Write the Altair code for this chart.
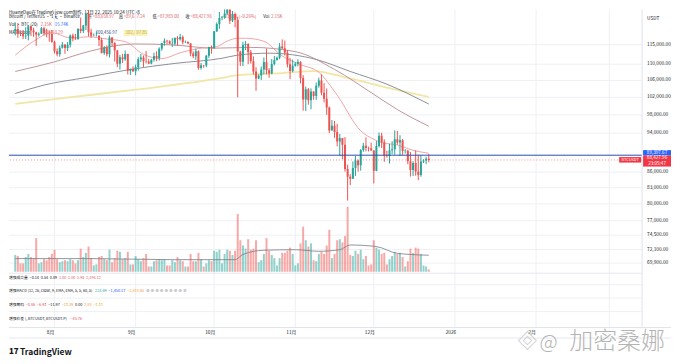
import math
import altair as alt
import pandas as pd

# ---------------- data ----------------
start_date = "2025-07-17"
end_date = "2025-12-22"

opens = [
    118630,119177,117924,117840,117265,117380,119955,118755,118340,117614,117919,119415,118062,117922,117832,
    115764,113297,112547,114208,115055,114129,114993,117472,116674,116462,119294,118686,120134,123306,118295,117342,117380,117405,116227,112872,114271,112500,116936,115438,113493,110111,111763,111262,112566,108377,108817,
    108246,109237,111240,111705,110730,110660,110187,111137,112066,111546,113960,115482,116029,115918,115268,115349,116788,116447,117073,115632,115721,115306,112748,112014,113328,109049,109712,109681,112122,114400,
    114056,118594,120529,122232,122391,123482,124659,121451,123354,121706,113214,110644,114958,115166,113028,110763,108186,106467,107198,108666,110588,108476,107688,110069,111033,111641,114559,114107,112898,110021,108322,
    109608,110098,110540,106583,101497,103885,101346,103339,102312,104722,106011,103058,101654,99692,94594,95596,94261,92215,92960,91554,86637,85129,84739,86830,88300,87369,90485,91333,90890,90802,
    90360,86286,91277,93430,92078,89330,89236,90395,90634,92691,92020,92511,90270,90298,88175,86419,87843,86143,85462,88103,88344,88659,
]
highs = [
    120998,120820,118499,118856,119676,120247,120090,119535,118451,118297,119766,119800,119273,118792,118922,
    116052,114036,114800,115720,115127,115716,117700,117944,117900,119311,122335,120322,123667,124474,119216,117999,118575,117543,116800,114615,114821,117429,117000,115666,113650,112371,112625,113485,112646,108926,109480,
    109912,111771,112575,112206,113384,111306,111350,112924,113293,114313,115488,116665,116298,116165,116781,116964,117286,117900,117459,116100,115900,115440,113290,113996,113500,110300,109800,112375,114464,114792,
    118649,121022,123894,122800,125708,126199,125126,124197,123762,122550,113400,115770,116000,115409,113612,111980,109240,107500,109450,111705,114000,109000,111293,112100,111950,115466,116400,116086,113643,111592,111190,
    110564,111250,110750,107299,104535,104200,104096,103406,105495,106670,107500,105333,104085,99866,96846,96635,96043,93836,92980,93160,87498,85620,88127,89228,88519,90656,91950,93092,91165,92000,
    90417,92307,94150,94080,92692,90289,91760,92287,94588,94476,93555,92754,90650,90472,90052,88175,90365,89477,89400,88573,89081,89617,
]
lows = [
    117453,116812,117277,116467,116515,116128,117301,117103,114723,117150,117840,117427,116950,115800,115500,
    112722,112000,111920,114008,112650,113355,114256,115880,116300,116400,118050,118100,118920,117180,116803,117200,117172,114640,112733,112380,112000,111684,114531,110680,109274,108666,110345,110862,107463,107350,108076,
    107255,108393,110528,109329,110206,110017,110000,110621,110766,110917,113430,114740,115169,115135,114384,114737,114720,116092,115100,115437,115183,112000,111500,111100,108620,108650,109100,109236,111560,112656,
    113970,118383,119248,121568,122000,123084,120574,121066,119651,102000,109561,109565,113600,110023,110164,107430,103528,106322,106103,107460,107473,106666,107500,109700,110920,111260,113830,112211,109200,106304,108000,
    109394,109471,105306,98944,98888,100300,99260,101455,101400,104265,102476,100813,98000,94012,94558,93005,91220,89253,88608,86100,80600,83500,84667,85272,86116,86306,90089,90180,90155,90336,
    83822,86184,90990,90889,88056,88908,87719,89612,89500,91563,89260,89480,89766,87577,85146,85266,85314,84450,85110,87830,87600,87983,
]
closes = [
    119177,117924,117840,117265,117380,119955,118755,118340,117614,117919,119415,118062,117922,117832,115764,
    113297,112547,114208,115055,114129,114993,117472,116674,116462,119294,118686,120134,123306,118295,117342,117380,117405,116227,112872,114271,112500,116936,115438,113493,110111,111763,111262,112566,108377,108817,108246,
    109237,111240,111705,110730,110660,110187,111137,112066,111546,113960,115482,116029,115918,115268,115349,116788,116447,117073,115632,115721,115306,112748,112014,113328,109049,109712,109681,112122,114400,114056,
    118594,120529,122232,122391,123482,124659,121451,123354,121706,113214,110644,114958,115166,113028,110763,108186,106467,107198,108666,110588,108476,107688,110069,111033,111641,114559,114107,112898,110021,108322,109608,
    110098,110540,106583,101497,103885,101346,103339,102312,104722,106011,103058,101654,99692,94594,95596,94261,92215,92960,91554,86637,85129,84739,86830,88300,87369,90485,91333,90890,90802,90360,
    86286,91277,93430,92078,89330,89236,90395,90634,92691,92020,92511,90270,90298,88175,86419,87843,86143,85462,88103,88344,88659,88427.96,
]
volumes_k = [
    16,15,8,8,14,17,14,13,32,8,9,12,11,14,17,
    21,12,9,10,11,10,12,11,8,11,22,14,18,24,13,6,7,14,15,12,11,21,9,13,20,19,12,13,19,7,7,
    15,12,10,13,17,5,5,10,11,12,11,12,6,6,11,9,14,11,10,5,5,17,10,10,18,12,5,8,11,10,
    20,19,21,8,17,21,20,16,20,55,30,25,22,31,21,22,30,9,11,17,32,20,16,13,6,13,18,18,20,23,17,
    6,8,27,43,30,24,27,11,10,17,19,17,25,40,13,17,30,31,28,34,62,16,15,20,17,21,12,15,6,7,
    30,23,21,17,18,7,12,15,19,17,18,14,5,10,22,18,23,22,17,6,5,2.15,
]

ma20_dates = ["2025-07-17","2025-07-24","2025-07-31","2025-08-07","2025-08-14","2025-08-21","2025-08-28",
              "2025-09-04","2025-09-11","2025-09-18","2025-09-25","2025-10-02","2025-10-06","2025-10-10",
              "2025-10-13","2025-10-20","2025-10-27","2025-11-03","2025-11-10","2025-11-17","2025-11-26",
              "2025-12-01","2025-12-04","2025-12-10","2025-12-16","2025-12-22"]
ma20_vals = [112300,115900,118200,116800,117100,116500,115800,112500,111400,112900,114000,114500,115950,116700,
             116700,115900,112100,109900,108000,102500,94500,92700,92000,91500,90400,89793]

ma60_dates = ["2025-07-17","2025-08-01","2025-08-15","2025-09-01","2025-09-15","2025-10-01","2025-10-15",
              "2025-11-01","2025-11-16","2025-12-01","2025-12-10","2025-12-22"]
ma60_vals = [108200,110600,113400,115200,114950,114100,114300,113200,108700,102700,99200,95500]

ma120_dates = ["2025-07-17","2025-07-28","2025-08-13","2025-08-30","2025-09-16","2025-10-04","2025-10-10",
               "2025-10-22","2025-11-09","2025-11-22","2025-12-06","2025-12-22"]
ma120_vals = [102900,104900,106700,108700,110200,111500,112300,112800,111200,108200,105100,100457]

ema200_dates = ["2025-07-17","2025-08-05","2025-09-01","2025-10-04","2025-10-10","2025-10-27","2025-11-08",
                "2025-11-21","2025-12-06","2025-12-22"]
ema200_vals = [100500,101900,103800,106600,107300,107800,108300,106600,104300,102100]

volma_dates = ["2025-07-17","2025-08-15","2025-09-15","2025-10-09","2025-10-12","2025-10-20","2025-11-01",
               "2025-11-10","2025-11-18","2025-11-22","2025-12-02","2025-12-10","2025-12-22"]
volma_vals = [12.5,12.5,11.5,11.5,16.5,20.5,21,19.5,21,25.5,24,17.5,15.74]

price_ticks = [115000,110000,106000,102000,98000,94000,86000,83000,80000,77000,74500,72100,69900]
month_ticks = ["2025-08-01","2025-09-01","2025-10-01","2025-11-01","2025-12-01","2026-01-01","2026-02-01","2026-03-01"]
label_ticks = ["2025-08-01","2025-09-01","2025-10-01","2025-11-01","2025-12-01","2026-01-01","2026-02-01"]
month_labels = ["8月","9月","10月","11月","12月","2026","2月"]
hline_price = 89397.67
last_price = 88427.96

# ---------------- layout ----------------
W, H = 635, 319
DAY_MS = 86400000
PX_PER_DAY = 2.667
X_AUG1 = 41.3
Y_REF = 35.3          # chart y of 115,000
PX_PER_LN = 440.0
PRICE_BOT = 262
VOL_BOT = 263
FONT = "Noto Sans CJK SC"
DARK = "#131722"
UP, DOWN = "#26a69a", "#ef5350"
GRID = "#eef0f5"


def ms(s):
    return int(pd.Timestamp(s, tz="UTC").value // 10**6)


aug1 = ms("2025-08-01")
x_domain = [aug1 - X_AUG1 / PX_PER_DAY * DAY_MS, aug1 + (W - X_AUG1) / PX_PER_DAY * DAY_MS]
y_domain = [115000 * math.exp(-(PRICE_BOT - Y_REF) / PX_PER_LN), 115000 * math.exp(Y_REF / PX_PER_LN)]

dates = pd.date_range(start_date, end_date, freq="D").strftime("%Y-%m-%d").tolist()
df = pd.DataFrame({"date": dates, "open": opens, "high": highs, "low": lows,
                   "close": closes, "vol": volumes_k})
df["dir"] = ["up" if c >= o else "down" for o, c in zip(opens, closes)]

xs = alt.Scale(type="utc", domain=x_domain, nice=False)
ys = alt.Scale(type="log", domain=y_domain, range=[PRICE_BOT, 0], nice=False, zero=False)
vs = alt.Scale(domain=[0, 250], range=[VOL_BOT, 0], nice=False)
col = alt.Color("dir:N", scale=alt.Scale(domain=["up", "down"], range=[UP, DOWN]), legend=None)

X = alt.X("date:T", scale=xs, axis=None, title=None)

# grid + tick labels drawn through the scales
yt = pd.DataFrame({"p": price_ticks})
xg = pd.DataFrame({"date": month_ticks})
xt = pd.DataFrame({"date": label_ticks, "lbl": month_labels})
ygrid = alt.Chart(yt).mark_rule(color=GRID, strokeWidth=1).encode(y=alt.Y("p:Q", scale=ys, axis=None))
xgrid = alt.Chart(xg).mark_rule(color=GRID, strokeWidth=1).encode(x=X)
ylabels = alt.Chart(yt).mark_text(align="left", baseline="middle", fontSize=4.8, font=FONT, color=DARK).encode(
    x=alt.value(640), y=alt.Y("p:Q", scale=ys, axis=None), text=alt.Text("p:Q", format=",.2f"))
xlabels = alt.Chart(xt).mark_text(align="center", baseline="middle", fontSize=4.8, font=FONT, color=DARK,
                                  dx=-4).encode(x=X, y=alt.value(324), text="lbl:N")

base = alt.Chart(df)
wick = base.mark_rule(strokeWidth=1, clip=True).encode(
    x=X, y=alt.Y("low:Q", scale=ys, axis=None, title=None), y2="high:Q", color=col)
body = base.mark_bar(size=2, clip=True).encode(
    x=X, y=alt.Y("open:Q", scale=ys, axis=None), y2="close:Q", color=col)


def ma_line(ds, vals, color, width, opacity=1.0):
    d = pd.DataFrame({"date": ds, "v": vals})
    return alt.Chart(d).mark_line(color=color, strokeWidth=width, interpolate="monotone", clip=True,
                                  opacity=opacity).encode(x=X, y=alt.Y("v:Q", scale=ys, axis=None))


ema200 = ma_line(ema200_dates, ema200_vals, "#f1e6a6", 1.8)
ma120 = ma_line(ma120_dates, ma120_vals, "#7f838c", 0.9)
ma60 = ma_line(ma60_dates, ma60_vals, "#b98a8c", 0.9)
ma20 = ma_line(ma20_dates, ma20_vals, "#f09a9c", 0.9)

hl_blue = alt.Chart(pd.DataFrame({"p": [hline_price]})).mark_rule(color="#2a4da8", strokeWidth=1).encode(
    y=alt.Y("p:Q", scale=ys, axis=None))
hl_red = alt.Chart(pd.DataFrame({"p": [last_price]})).mark_rule(
    color=DOWN, strokeWidth=0.8, strokeDash=[1, 2], opacity=0.8).encode(y=alt.Y("p:Q", scale=ys, axis=None))

price_layer = alt.layer(ygrid, xgrid, ema200, ma120, ma60, ma20, wick, body, hl_red, hl_blue, ylabels, xlabels)

vbars = base.mark_bar(size=2, opacity=0.5).encode(
    x=X, y=alt.Y("vol:Q", scale=vs, axis=None), color=col)
vma = alt.Chart(pd.DataFrame({"date": volma_dates, "v": volma_vals})).mark_line(
    color="#787b86", strokeWidth=0.8, interpolate="monotone").encode(
    x=X, y=alt.Y("v:Q", scale=vs, axis=None))
vol_layer = alt.layer(vbars, vma)

ONE = pd.DataFrame({"a": [0]})


def label(s, x, y, color=DARK, size=4.3, align="left", weight="normal", baseline="middle", opacity=1.0):
    return alt.Chart(ONE).mark_text(text=s, align=align, baseline=baseline, fontSize=size, fontWeight=weight,
                                    font=FONT, color=color, opacity=opacity).encode(
        x=alt.value(x), y=alt.value(y))


def twidth(s, size):
    w = 0.0
    for ch in s:
        if ord(ch) >= 0x2E80:
            w += 1.0
        elif ch.isdigit() or ch == "−":
            w += 0.572
        elif ch in ",.: ":
            w += 0.26
        elif ch in "()-":
            w += 0.32
        elif ch == "⊘":
            w += 0.8
        elif ch.isupper():
            w += 0.64
        else:
            w += 0.52
    return w * size


def row(pieces, x0, y, size=3.8, gap=1.6):
    out, x = [], x0
    for s, c in pieces:
        out.append(label(s, x, y, color=c, size=size))
        x += twidth(s, size) + gap
    return out


def box(x1, x2, y1, y2, fill):
    return alt.Chart(ONE).mark_rect(color=fill).encode(
        x=alt.value(x1), x2=alt.value(x2), y=alt.value(y1), y2=alt.value(y2))


def hrule(x1, x2, y, color, width=1.0):
    return alt.Chart(ONE).mark_rule(color=color, strokeWidth=width).encode(
        x=alt.value(x1), x2=alt.value(x2), y=alt.value(y))


RED = "#e0565b"
behind = [
    label("HuangDao在TradingView.com制作, 12月 22, 2025 10:24 UTC+8", 0, 0.3, size=4.6, baseline="top"),
    label("Bitcoin / TetherUS · 1天 · Binance", 0, 8),
    label("开", 79, 8), label("=88,658.97", 84, 8, color=RED),
    label("高", 110, 8), label("=89,617.24", 115, 8, color=RED),
    label("低", 144, 8), label("=87,983.00", 149, 8, color=RED),
    label("收", 177, 8), label("=88,427.96", 182, 8, color=RED),
    label("−231.01 (−0.26%)", 214, 8, color=RED),
    label("Vol", 255, 8), label("2.15K", 263, 8, color=RED),
    *row([("Vol · BTC (20)", DARK), ("2.15K", RED), ("15.74K", "#2962ff")], 0, 16, size=4.3, gap=3),
    label("MA Ribbon", 0, 23.5), label("89,793.29", 35, 23.5, color=RED),
    label("100,456.97", 87, 23.5, color="#2a3f7a"),
    box(115, 139, 20.5, 26.5, "#fbf3b5"), label("102,107.85", 117, 23.5, color="#b8a64a"),
]

rows = []
rows += row([("增强成交量", DARK), ("−0.14", DARK), ("0.54", DARK), ("0.89", DARK), ("1.00", RED),
             ("1.00", RED), ("1.95", RED), ("2,194.12", RED)], 0, 269)
rows += row([("增强MACD (12, 26, close, 9, EMA, EMA, 5, 5, 60, 5)", DARK), ("224.69", "#26a69a"),
             ("−1,450.17", "#2962ff"), ("−1,674.86", "#f7a03c")] + [("⊘", "#555a66")] * 9, 0, 282)
rows += row([("增强筹码", DARK), ("−0.86", RED), ("−6.93", RED), ("−11.97", DARK), ("−13.29", "#e3a33a"),
             ("0.00", DARK), ("2.88", "#f29a4a"), ("−3.33", "#e2c13a")], 0, 296)
rows += row([("增强价差 (, BTCUSDT, BTCUSDT.P)", DARK), ("−45.76", RED)], 0, 310)

overlay = [
    hrule(0, 635, 264.5, "#e6e8ee"), hrule(0, 635, 276, "#eef0f4"), hrule(0, 635, 289.5, "#eef0f4"),
    hrule(0, 635, 303, "#eef0f4"), hrule(0, 664, H, "#e0e3eb"), hrule(0, 664, 329.5, "#e6e8ee"),
    alt.Chart(ONE).mark_rule(color="#e0e3eb", strokeWidth=1).encode(
        x=alt.value(635), y=alt.value(0), y2=alt.value(H)),
    *rows,
    box(612, 634, 148, 153.5, "#f23645"), label("BTCUSDT", 623, 150.8, color="white", size=4, align="center"),
    box(636, 664, 141, 146.5, "#2962ff"), label("89,397.67", 650, 143.8, color="white", size=4.6, align="center"),
    box(636, 664, 146.5, 157.5, "#f23645"),
    label("88,427.96", 650, 149.4, color="white", size=4.6, align="center"),
    label("23:05:47", 650, 154.6, color="white", size=4.6, align="center"),
    label("USDT", 640, 10, size=4.8),
    label("17", 0, 344, size=8, weight=900),
    label("TradingView", 11, 344, size=8.5, weight="bold"),
    alt.Chart(ONE).mark_point(shape="diamond", filled=False, size=320, color="#c4c4c4", strokeWidth=1.1).encode(
        x=alt.value(520), y=alt.value(332)),
    alt.Chart(ONE).mark_point(shape="diamond", filled=False, size=70, color="#c4c4c4", strokeWidth=1.1).encode(
        x=alt.value(520), y=alt.value(332)),
    label("@", 532, 334, size=20, color="#b4b4b4", weight=300),
    label("加密桑娜", 562, 334, size=24, color="#b4b4b4", weight=300),
]

chart = alt.layer(*behind, price_layer, vol_layer, *overlay).resolve_scale(y="independent").properties(
    width=W, height=H, padding=0, background="white"
).configure_view(stroke=None)

chart.save("out.html", embed_options={"renderer": "svg", "actions": False})
